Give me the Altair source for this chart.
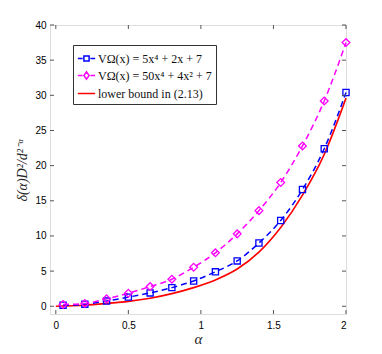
import altair as alt
import pandas as pd

alpha_pts = [0.05, 0.2, 0.35, 0.5, 0.65, 0.8, 0.95, 1.1, 1.25, 1.4, 1.55, 1.7, 1.85, 2.0]
blue_vals = [0.14, 0.3, 0.75, 1.3, 1.9, 2.65, 3.6, 4.9, 6.45, 9.0, 12.2, 16.6, 22.4, 30.4]
magenta_vals = [0.25, 0.4, 1.05, 1.85, 2.8, 3.85, 5.55, 7.6, 10.3, 13.6, 17.6, 22.8, 29.2, 37.5]
red_alpha = [0.0, 0.2, 0.35, 0.5, 0.65, 0.8, 0.95, 1.1, 1.25, 1.4, 1.55, 1.7, 1.85, 2.0]
red_vals = [0.0, 0.15, 0.4, 0.7, 1.15, 1.8, 2.65, 3.75, 5.3, 7.7, 11.2, 15.8, 21.6, 29.6]

series_names = ["VΩ(x) = 5x⁴ + 2x + 7", "VΩ(x) = 50x⁴ + 4x² + 7", "lower bound in (2.13)"]
series_colors = ["#0000ff", "#ff00ff", "#ff0000"]
x_ticks = [0, 0.5, 1, 1.5, 2]
y_ticks = [0, 5, 10, 15, 20, 25, 30, 35, 40]

df_b = pd.DataFrame({"alpha": alpha_pts, "val": blue_vals, "series": series_names[0]})
df_m = pd.DataFrame({"alpha": alpha_pts, "val": magenta_vals, "series": series_names[1]})
df_r = pd.DataFrame({"alpha": red_alpha, "val": red_vals, "series": series_names[2]})
df_all = pd.concat([df_b, df_m, df_r], ignore_index=True)

W, H = 296, 289
axc = "#555555"

xs = alt.Scale(domain=[-0.04, 2], nice=False)
ys = alt.Scale(domain=[-1.1, 40], nice=False)

X = alt.X("alpha:Q", scale=xs,
          axis=alt.Axis(values=x_ticks, format="~g", title="α", grid=False, domain=False,
                        ticks=False, labelPadding=6, titlePadding=1, labelOverlap=False,
                        titleFont="Liberation Serif", titleFontStyle="italic",
                        titleFontWeight="normal", titleFontSize=15, titleColor="#262626"))
Y = alt.Y("val:Q", scale=ys,
          axis=alt.Axis(values=y_ticks, title="δ(α)D²/d²⁻ᵅ", grid=False, domain=False,
                        ticks=False, labelPadding=4, titlePadding=5, labelOverlap=False,
                        titleFont="Liberation Serif", titleFontStyle="italic",
                        titleFontWeight="normal", titleFontSize=14, titleColor="#262626"))

line_b = alt.Chart(df_b).mark_line(color=series_colors[0], strokeWidth=1.5,
                                   strokeDash=[6, 4], interpolate="monotone").encode(x=X, y=Y)
line_m = alt.Chart(df_m).mark_line(color=series_colors[1], strokeWidth=1.5,
                                   strokeDash=[6, 4], interpolate="monotone").encode(x=X, y=Y)
line_r = alt.Chart(df_r).mark_line(color=series_colors[2], strokeWidth=1.6,
                                   interpolate="monotone").encode(x=X, y=Y)

sq = alt.Chart(df_b).mark_point(shape="square", filled=False, size=38, strokeWidth=1.3,
                                color=series_colors[0], opacity=1).encode(x=X, y=Y)
dm = alt.Chart(df_m).mark_point(shape="diamond", filled=False, size=60, strokeWidth=1.3,
                                color=series_colors[1], opacity=1).encode(x=X, y=Y)

leg_paths = [
    "M-1,0H-0.45M0.45,0H1M-0.3,-0.3H0.3V0.3H-0.3Z",
    "M-1,0H-0.45M0.45,0H1M0,-0.42L0.3,0L0,0.42L-0.3,0Z",
    "M-1,0H1",
]

legend_layer = alt.Chart(df_all).mark_point(filled=False, opacity=0).encode(
    x=X, y=Y,
    color=alt.Color("series:N", scale=alt.Scale(domain=series_names, range=series_colors),
                    legend=alt.Legend(title=None, orient="none", legendX=23, legendY=20,
                                      symbolOpacity=1, symbolSize=300, symbolStrokeWidth=1.5,
                                      labelFont="Liberation Serif", labelFontSize=12,
                                      labelColor="#111111", labelOffset=2, rowPadding=1,
                                      padding=4, strokeColor="#333333", fillColor="white",
                                      labelLimit=300)),
    shape=alt.Shape("series:N", scale=alt.Scale(domain=series_names, range=leg_paths)),
)

xt = pd.DataFrame({"alpha": x_ticks})
yt = pd.DataFrame({"val": y_ticks})
tb = alt.Chart(xt).mark_rule(color=axc, strokeWidth=1).encode(
    x=X, y=alt.value(H), y2=alt.value(H - 4))
tt = alt.Chart(xt).mark_rule(color=axc, strokeWidth=1).encode(
    x=X, y=alt.value(0), y2=alt.value(4))
tl = alt.Chart(yt).mark_rule(color=axc, strokeWidth=1).encode(
    y=Y, x=alt.value(0), x2=alt.value(4))
tr = alt.Chart(yt).mark_rule(color=axc, strokeWidth=1).encode(
    y=Y, x=alt.value(W), x2=alt.value(W - 4))

chart = alt.layer(legend_layer, line_r, line_b, line_m, sq, dm, tb, tt, tl, tr).properties(
    width=W, height=H,
    autosize=alt.AutoSizeParams(type="none"),
    padding={"left": 42, "top": 17, "right": 28, "bottom": 32},
).configure_view(stroke=axc, strokeWidth=1).configure_axis(
    labelFont="Liberation Sans", labelFontSize=11.5, labelColor="#262626"
).configure(background="white")

chart.save("out.html", embed_options={"renderer": "svg", "actions": False})
